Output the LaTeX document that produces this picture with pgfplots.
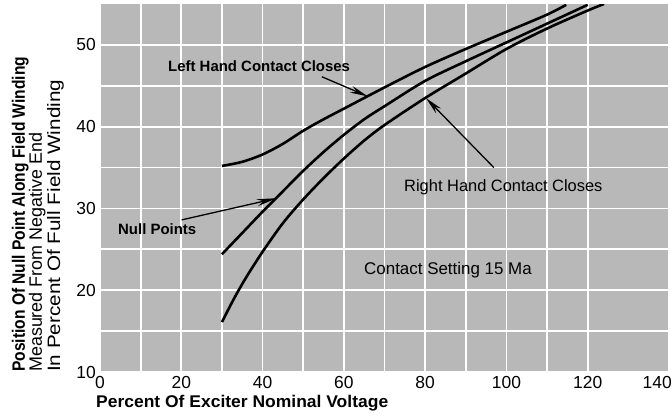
\documentclass[border=0pt]{standalone}
\usepackage{fontspec}
\setmainfont{Liberation Sans}
\usepackage{graphicx}
\usepackage{pgfplots}
\pgfplotsset{compat=1.18}
\usetikzlibrary{arrows.meta}
\begin{document}
\begin{tikzpicture}
\begin{axis}[
  at={(0,0)}, anchor=south west,
  scale only axis, width=569bp, height=368bp,
  xmin=0, xmax=140, ymin=10, ymax=55,
  xtick={0,20,...,120}, extra x ticks={140},
  extra x tick style={xticklabel style={anchor=north east, xshift=3bp}},
  minor x tick num=1,
  ytick={10,20,...,50}, minor y tick num=1,
  grid=both,
  major grid style={white, line width=1.8bp},
  minor grid style={white, line width=1.8bp},
  axis background/.style={fill=black!28},
  axis line style={draw=none},
  major tick length=0pt, minor tick length=0pt,
  tick label style={font=\fontsize{17.5}{20}\selectfont},
  xticklabel style={inner sep=0pt, yshift=-4bp},
  yticklabel style={inner sep=0pt, xshift=-4bp},
  /pgf/number format/assume math mode=true,
]
% Left hand contact closes
\addplot[black, line width=2.6bp, smooth] coordinates {
(30,35.2) (35,35.7) (40,36.6) (45,37.9) (50,39.5) (55,40.9) (60,42.2)
(70,44.8) (80,47.3) (90,49.5) (100,51.6) (110,53.7) (114.7,54.9)};
% Null points
\addplot[black, line width=2.6bp, smooth] coordinates {
(30,24.4) (35,27.0) (40,29.6) (45,32.1) (50,34.6) (55,36.9) (60,39.0)
(65,40.9) (70,42.5) (80,45.6) (90,48.0) (100,50.3) (110,52.6) (120,54.9)};
% Right hand contact closes
\addplot[black, line width=2.6bp, smooth] coordinates {
(30,16.1) (33,19.0) (36,21.6) (40,24.7) (45,28.2) (50,31.1) (55,33.7)
(60,36.1) (65,38.3) (70,40.2) (80,43.5) (90,46.5) (100,49.5) (110,52.0)
(120,54.2) (124,55.0)};

\node[anchor=base west, inner sep=0pt, font=\fontsize{15}{18}\selectfont\bfseries]
  at (axis cs:16.73,46.7) {Left Hand Contact Closes};
\draw[line width=1.3bp, -{Stealth[length=18bp,width=7bp]}]
  (axis cs:54.6,46.1) -- (axis cs:65.9,43.7);

\node[anchor=base west, inner sep=0pt, font=\fontsize{15}{18}\selectfont\bfseries]
  at (axis cs:4.43,26.8) {Null Points};
\draw[line width=1.3bp, -{Stealth[length=20bp,width=7bp]}]
  (axis cs:20.1,28.6) -- (axis cs:43.5,31.25);

\node[anchor=base west, inner sep=0pt, font=\fontsize{16.5}{19}\selectfont]
  at (axis cs:74.8,32.06) {Right Hand Contact Closes};
\draw[line width=1.3bp, -{Stealth[length=18bp,width=7bp]}]
  (axis cs:96.9,35.0) -- (axis cs:80.2,43.5);

\node[anchor=base west, inner sep=0pt, font=\fontsize{17}{20}\selectfont]
  at (axis cs:64.96,21.9) {Contact Setting 15 Ma};
\end{axis}

\node[rotate=90, anchor=base west, inner sep=0pt, font=\fontsize{18}{22}\selectfont\bfseries]
  at (-75bp,0bp) {\resizebox{315bp}{\height}{Position Of Null Point Along Field Winding}};
\node[rotate=90, anchor=base west, inner sep=0pt, font=\fontsize{18}{22}\selectfont]
  at (-58bp,0bp) {\resizebox{239bp}{\height}{Measured From Negative End}};
\node[rotate=90, anchor=base west, inner sep=0pt, font=\fontsize{18}{22}\selectfont]
  at (-40bp,0bp) {\resizebox{292bp}{\height}{In Percent Of Full Field Winding}};

\node[anchor=base west, inner sep=0pt, font=\fontsize{17}{20}\selectfont\bfseries]
  at (-4bp,-35bp) {\resizebox{292bp}{\height}{Percent Of Exciter Nominal Voltage}};

\pgfresetboundingbox
\useasboundingbox (-100bp,-44bp) rectangle (572bp,372bp);
\end{tikzpicture}
\end{document}
